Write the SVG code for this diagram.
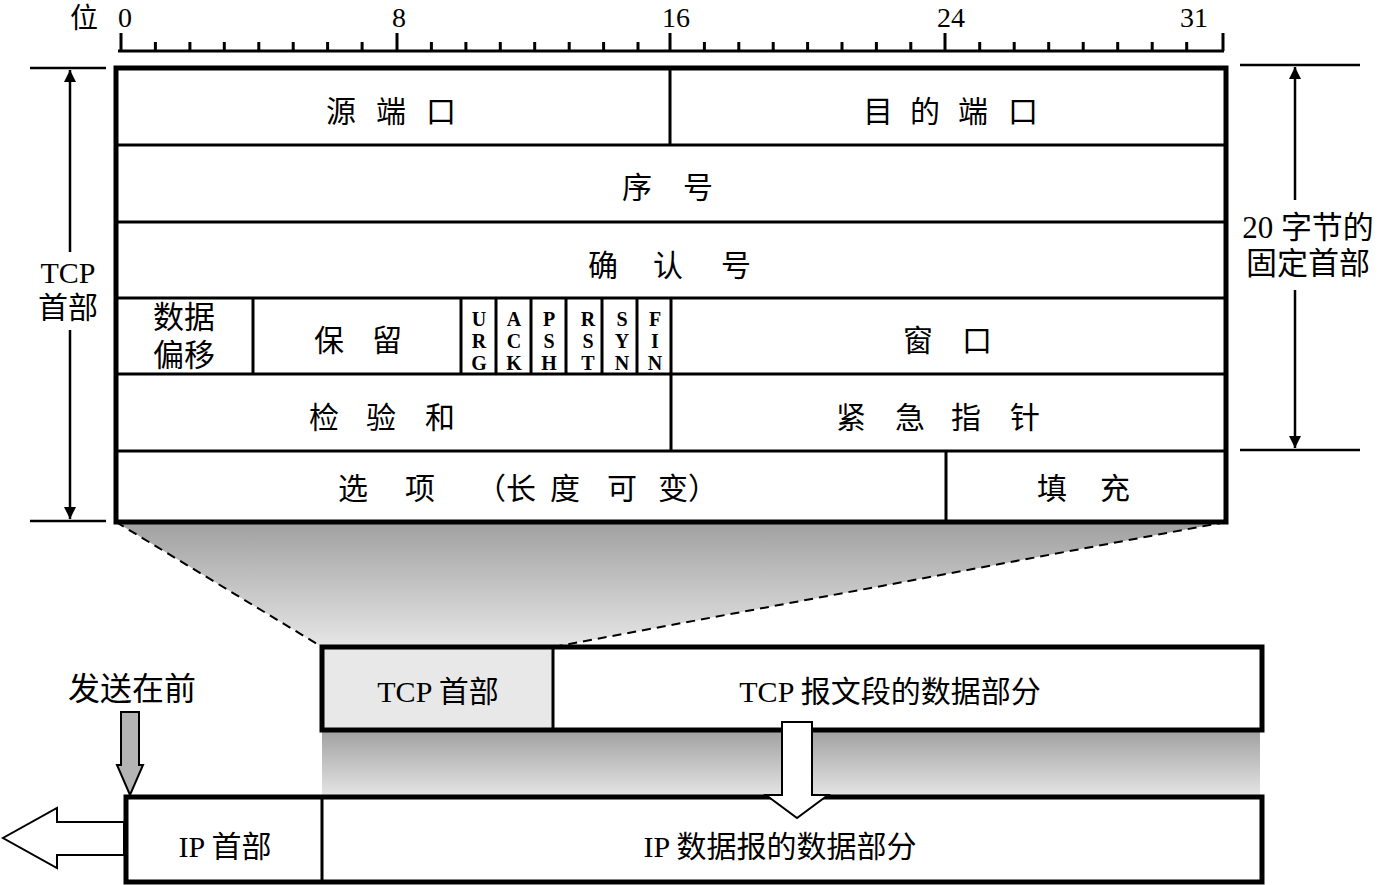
<svg xmlns="http://www.w3.org/2000/svg" width="1379" height="885" viewBox="0 0 1379 885">
<defs>
<style>
.t{font-family:"Liberation Serif","Noto Sans CJK SC",serif;font-size:30px;fill:#000}
.f{font-family:"Liberation Serif",serif;font-size:20px;font-weight:bold;fill:#000;text-anchor:middle}
.thin{stroke:#000;stroke-width:3;fill:none}
.thick{stroke:#000;stroke-width:5;fill:none}
.dim{stroke:#000;stroke-width:2.5;fill:none}
.dash{stroke:#000;stroke-width:2;stroke-dasharray:9 6;fill:none}
</style>
<linearGradient id="g1" x1="0" y1="0" x2="0" y2="1">
<stop offset="0" stop-color="#a0a0a0"/>
<stop offset="1" stop-color="#e6e6e6"/>
</linearGradient>
<marker id="ah" viewBox="0 0 10 10" refX="10" refY="5" markerWidth="12" markerHeight="12" markerUnits="userSpaceOnUse" orient="auto-start-reverse">
<path d="M0,0 L10,5 L0,10 z" fill="#000"/>
</marker>
</defs>

<!-- ruler -->
<g id="ruler">
<text class="t" x="70" y="28" style="font-size:28px">位</text>
<text class="t" x="118" y="27" style="font-size:28px">0</text>
<text class="t" x="392" y="27" style="font-size:28px">8</text>
<text class="t" x="662" y="27" style="font-size:28px">16</text>
<text class="t" x="937" y="27" style="font-size:28px">24</text>
<text class="t" x="1180" y="27" style="font-size:28px">31</text>
<path class="thin" d="M118,51 H1224"/>
<path class="thin" d="M121,33 V51 M397,33 V51 M670,33 V51 M945,33 V51 M1223,33 V51"/>
<path class="thin" d="M155.4,42V51 M189.9,42V51 M224.3,42V51 M258.8,42V51 M293.2,42V51 M327.6,42V51 M362.1,42V51 M431.4,42V51 M465.9,42V51 M500.3,42V51 M534.7,42V51 M569.2,42V51 M603.6,42V51 M638,42V51 M704.4,42V51 M738.8,42V51 M773.2,42V51 M807.6,42V51 M842,42V51 M876.4,42V51 M910.8,42V51 M979.7,42V51 M1014.2,42V51 M1048.7,42V51 M1083.2,42V51 M1117.7,42V51 M1152.2,42V51 M1186.7,42V51"/>
</g>

<!-- gradient funnel -->
<g id="funnel">
<polygon points="116,522 1226,522 553,647 322,647" fill="url(#g1)"/>
<path class="dash" d="M116,522 L322,647 M1226,522 L553,647"/>
</g>
<g id="band">
<rect x="322" y="730" width="938" height="67" fill="url(#g1)"/>
</g>

<!-- TCP header table -->
<g id="tcp-header">
<path class="thin" d="M116,145 H1226 M116,222 H1226 M116,298 H1226 M116,374 H1226 M116,451 H1226"/>
<path class="thin" d="M670,68 V145 M253,298 V374 M461,298 V374 M496,298 V374 M531,298 V374 M566,298 V374 M602,298 V374 M637,298 V374 M671,298 V374 M671,374 V451 M946,451 V522"/>
<rect class="thick" x="116" y="68" width="1110" height="454"/>
</g>
<g id="row1">
<text class="t" x="326 376 426" y="122">源端口</text>
<text class="t" x="863 910 958 1008" y="122">目的端口</text>
</g>
<g id="row2"><text class="t" x="622 683" y="198">序号</text></g>
<g id="row3"><text class="t" x="588 653 721" y="276">确认号</text></g>
<g id="row4">
<text class="t" x="153" y="328" style="font-size:31px">数据</text>
<text class="t" x="153" y="366" style="font-size:31px">偏移</text>
<text class="t" x="314 372" y="351">保留</text>
<text class="f" x="479" y="326">U</text><text class="f" x="479" y="348">R</text><text class="f" x="479" y="370">G</text>
<text class="f" x="514" y="326">A</text><text class="f" x="514" y="348">C</text><text class="f" x="514" y="370">K</text>
<text class="f" x="549" y="326">P</text><text class="f" x="549" y="348">S</text><text class="f" x="549" y="370">H</text>
<text class="f" x="588" y="326">R</text><text class="f" x="588" y="348">S</text><text class="f" x="588" y="370">T</text>
<text class="f" x="622" y="326">S</text><text class="f" x="622" y="348">Y</text><text class="f" x="622" y="370">N</text>
<text class="f" x="655" y="326">F</text><text class="f" x="655" y="348">I</text><text class="f" x="655" y="370">N</text>
<text class="t" x="903 962" y="351">窗口</text>
</g>
<g id="row5">
<text class="t" x="309 366 425" y="428">检验和</text>
<text class="t" x="836 895 951 1010" y="428">紧急指针</text>
</g>
<g id="row6">
<text class="t" x="338 405 476 506 550 607 658 688" y="499">选项（长度可变）</text>
<text class="t" x="1037 1100" y="499">填充</text>
</g>

<!-- dimension labels -->
<g id="left-dim">
<path class="dim" d="M30,68 H106 M30,521 H106"/>
<path class="dim" d="M70,252 V70" marker-end="url(#ah)"/>
<path class="dim" d="M70,330 V519" marker-end="url(#ah)"/>
<text class="t" x="68" y="283" text-anchor="middle">TCP</text>
<text class="t" x="68" y="318" text-anchor="middle">首部</text>
</g>
<g id="right-dim">
<path class="dim" d="M1240,65 H1360 M1240,450 H1360"/>
<path class="dim" d="M1295,200 V67" marker-end="url(#ah)"/>
<path class="dim" d="M1295,290 V448" marker-end="url(#ah)"/>
<text class="t" x="1308" y="238" text-anchor="middle" style="font-size:31px">20 字节的</text>
<text class="t" x="1308" y="274" text-anchor="middle" style="font-size:31px">固定首部</text>
</g>

<!-- TCP segment -->
<g id="tcp-segment">
<rect x="322" y="647" width="231" height="83" fill="#e8e8e8"/>
<rect x="553" y="647" width="709" height="83" fill="#fff"/>
<path class="thin" d="M553,647 V730"/>
<rect class="thick" x="322" y="647" width="940" height="83"/>
<text class="t" x="438" y="702" text-anchor="middle">TCP 首部</text>
<text class="t" x="890" y="702" text-anchor="middle">TCP 报文段的数据部分</text>
</g>

<!-- IP datagram -->
<g id="ip-datagram">
<rect x="126" y="797" width="1136" height="85" fill="#fff"/>
<path class="thin" d="M322,797 V882"/>
<rect class="thick" x="126" y="797" width="1136" height="85"/>
<text class="t" x="225" y="857" text-anchor="middle">IP 首部</text>
<text class="t" x="780" y="857" text-anchor="middle">IP 数据报的数据部分</text>
</g>

<!-- arrows -->
<g id="connectors">
<polygon points="782,722 812,722 812,795 828,795 797,818 766,795 782,795" fill="#fff" stroke="#000" stroke-width="2"/>
<polygon points="121,712 139,712 139,765 143,765 130,795 117,765 121,765" fill="#b4b4b4" stroke="#000" stroke-width="2"/>
<polygon points="124,822 57,822 57,808 3,838 57,868 57,855 124,855" fill="#fff" stroke="#000" stroke-width="2"/>
</g>
<g id="send-first"><text class="t" x="68" y="700" style="font-size:32px">发送在前</text></g>
</svg>
